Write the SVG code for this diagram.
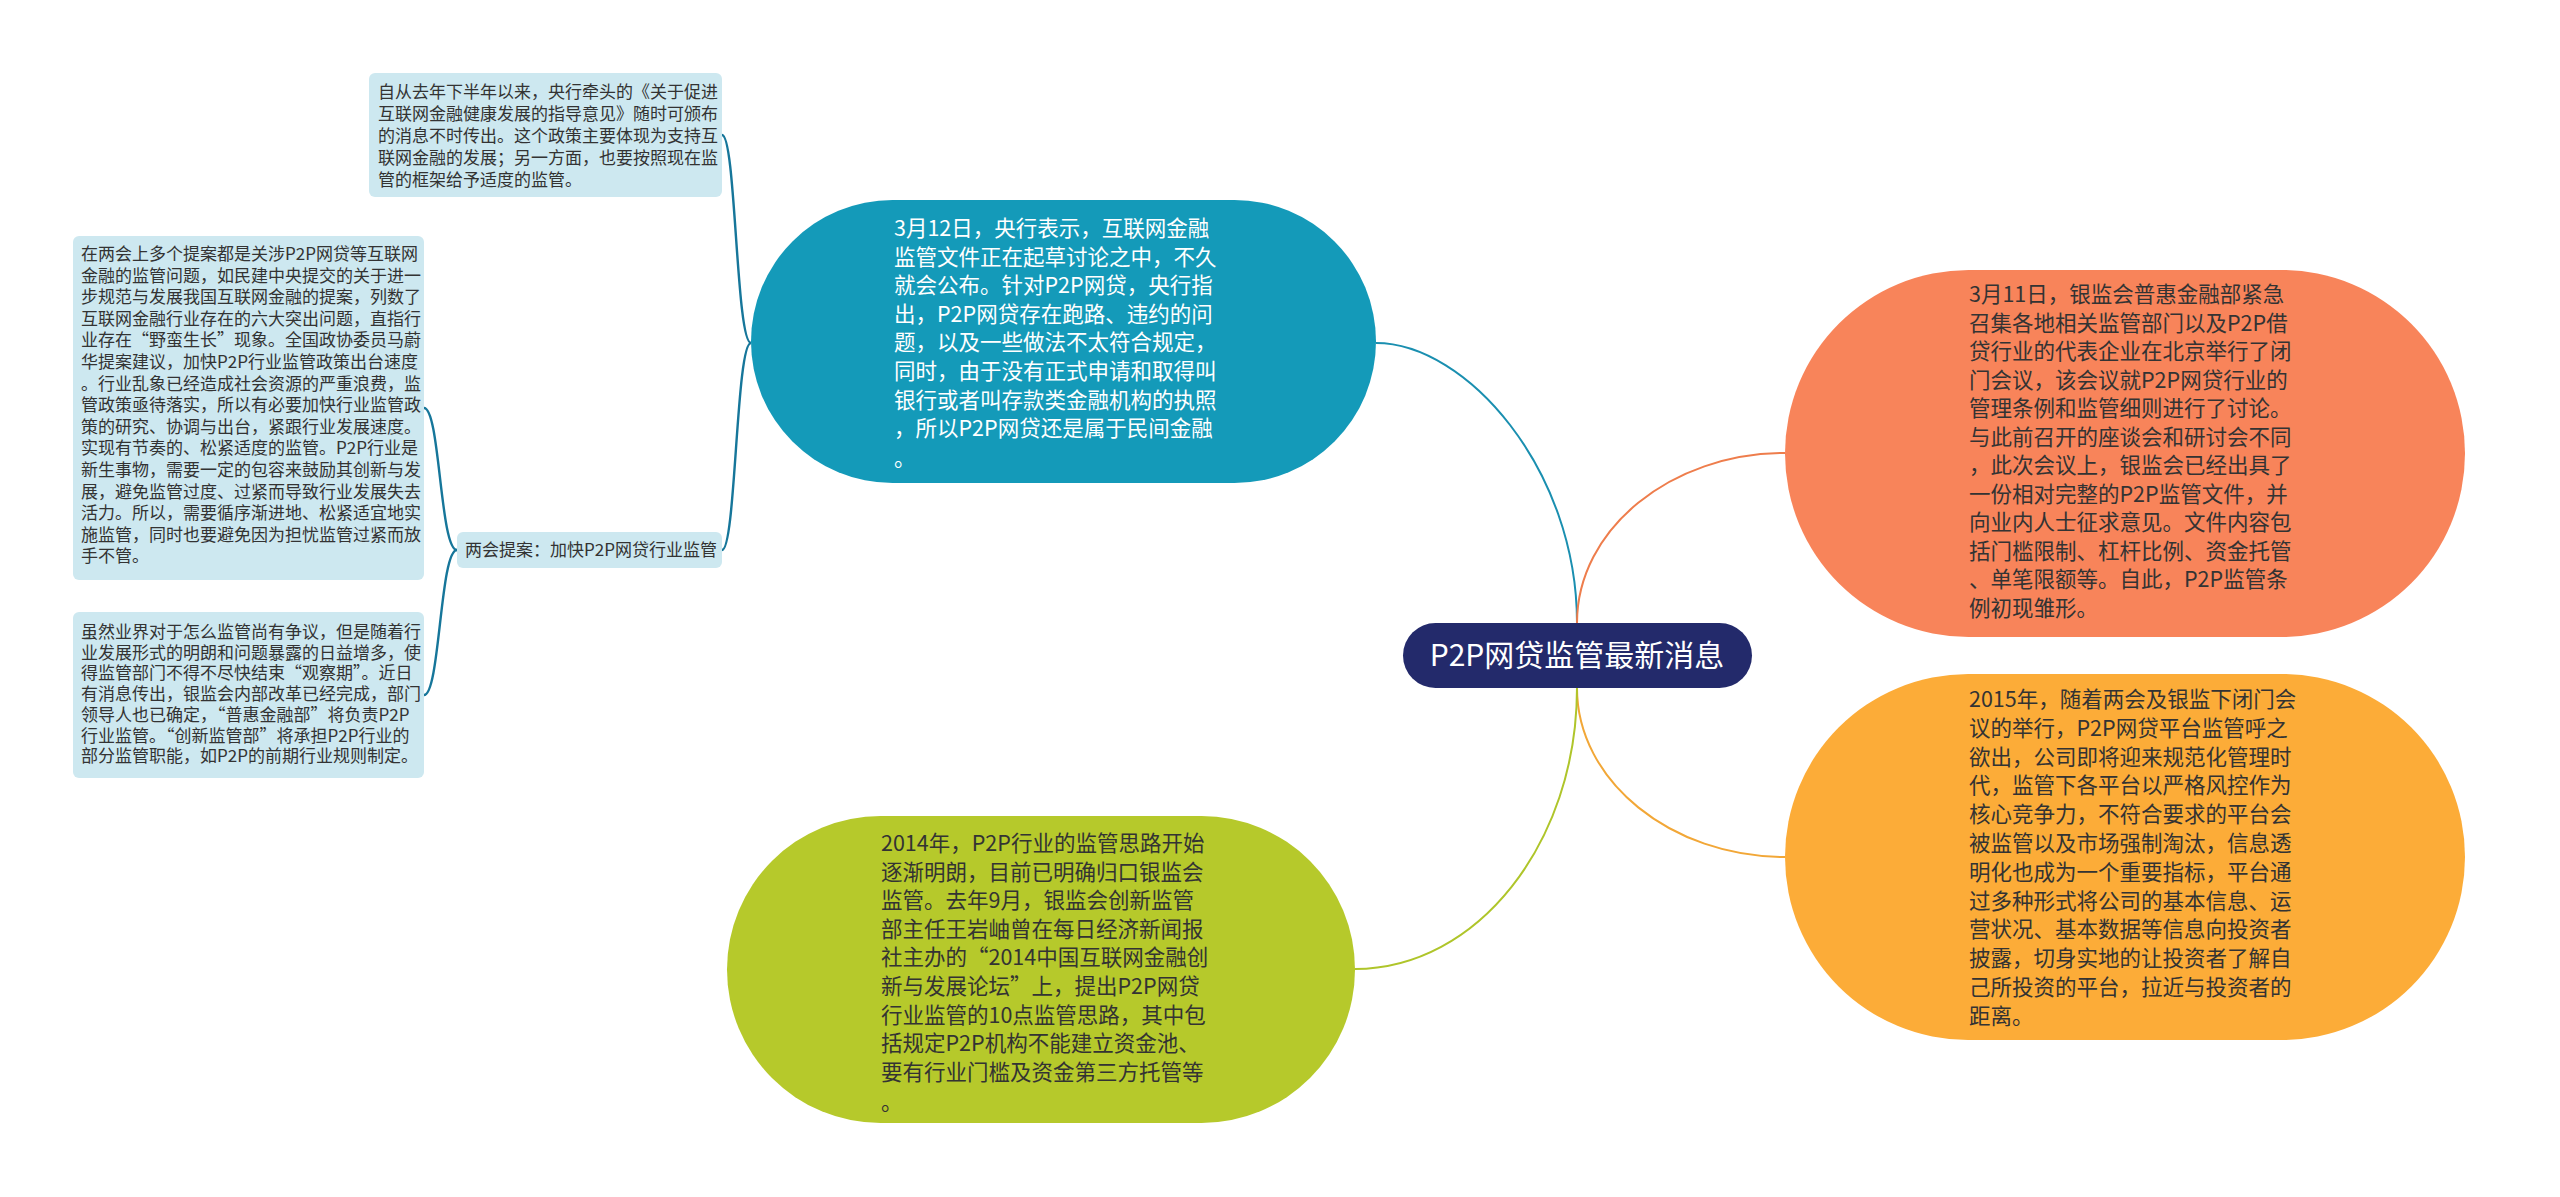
<svg xmlns="http://www.w3.org/2000/svg" width="2560" height="1197" viewBox="0 0 2560 1197">
<style>
.cjk{font-family:"Noto Sans CJK SC","Noto Sans",sans-serif}
.big{font-size:21.5px}
.small{font-size:17px;fill:#333333}
.dark{fill:#333333}
.white{fill:#ffffff}
.box{fill:#cde8f0}
.conn{fill:none;stroke-width:2}
.lconn{fill:none;stroke-width:2.4;stroke:#16769a}
</style>
<rect width="2560" height="1197" fill="#ffffff"/>
<g id="connectors">
<path class="conn" stroke="#1a8fb0" d="M1577,623 C1577,469 1466,343 1376,343"/>
<path class="conn" stroke="#ee7d4c" d="M1577,623 C1577,529 1671,453 1785,453"/>
<path class="conn" stroke="#f2a737" d="M1577,688 C1577,781 1671,857 1785,857"/>
<path class="conn" stroke="#afc52a" d="M1577,688 C1577,843 1477,969 1355,969"/>
<path class="lconn" d="M751,343 C736,343 736,135 722,135"/>
<path class="lconn" d="M751,343 C736,343 736,550 722,550"/>
<path class="lconn" d="M457,550 C440,550 440,408 424,408"/>
<path class="lconn" d="M457,550 C440,550 440,695 424,695"/>
</g>
<g id="center">
<rect x="1403" y="623" width="349" height="65" rx="32.5" fill="#232a6b"/>
<text class="cjk white" x="1577" y="666" font-size="30" text-anchor="middle">P2P网贷监管最新消息</text>
</g>
<g id="node-blue">
<rect x="751" y="200" width="625" height="283" rx="141.5" fill="#149ab9"/>
<text class="cjk big white" x="894">
<tspan x="894" y="236">3月12日，央行表示，互联网金融</tspan>
<tspan x="894" y="264.6">监管文件正在起草讨论之中，不久</tspan>
<tspan x="894" y="293.2">就会公布。针对P2P网贷，央行指</tspan>
<tspan x="894" y="321.8">出，P2P网贷存在跑路、违约的问</tspan>
<tspan x="894" y="350.4">题，以及一些做法不太符合规定，</tspan>
<tspan x="894" y="379">同时，由于没有正式申请和取得叫</tspan>
<tspan x="894" y="407.6">银行或者叫存款类金融机构的执照</tspan>
<tspan x="894" y="436.2">，所以P2P网贷还是属于民间金融</tspan>
<tspan x="894" y="466">。</tspan>
</text>
</g>
<g id="node-orange">
<rect x="1785" y="270" width="680" height="367" rx="183.5" fill="#f8845a"/>
<text class="cjk big dark" x="1969">
<tspan x="1969" y="302">3月11日，银监会普惠金融部紧急</tspan>
<tspan x="1969" y="330.5">召集各地相关监管部门以及P2P借</tspan>
<tspan x="1969" y="359">贷行业的代表企业在北京举行了闭</tspan>
<tspan x="1969" y="387.5">门会议，该会议就P2P网贷行业的</tspan>
<tspan x="1969" y="416">管理条例和监管细则进行了讨论。</tspan>
<tspan x="1969" y="444.5">与此前召开的座谈会和研讨会不同</tspan>
<tspan x="1969" y="473">，此次会议上，银监会已经出具了</tspan>
<tspan x="1969" y="501.5">一份相对完整的P2P监管文件，并</tspan>
<tspan x="1969" y="530">向业内人士征求意见。文件内容包</tspan>
<tspan x="1969" y="558.5">括门槛限制、杠杆比例、资金托管</tspan>
<tspan x="1969" y="587">、单笔限额等。自此，P2P监管条</tspan>
<tspan x="1969" y="615.5">例初现雏形。</tspan>
</text>
</g>
<g id="node-yellow">
<rect x="1785" y="674" width="680" height="366" rx="183" fill="#fcac38"/>
<text class="cjk big dark" x="1969">
<tspan x="1969" y="707">2015年，随着两会及银监下闭门会</tspan>
<tspan x="1969" y="735.8">议的举行，P2P网贷平台监管呼之</tspan>
<tspan x="1969" y="764.6">欲出，公司即将迎来规范化管理时</tspan>
<tspan x="1969" y="793.4">代，监管下各平台以严格风控作为</tspan>
<tspan x="1969" y="822.2">核心竞争力，不符合要求的平台会</tspan>
<tspan x="1969" y="851">被监管以及市场强制淘汰，信息透</tspan>
<tspan x="1969" y="879.8">明化也成为一个重要指标，平台通</tspan>
<tspan x="1969" y="908.6">过多种形式将公司的基本信息、运</tspan>
<tspan x="1969" y="937.4">营状况、基本数据等信息向投资者</tspan>
<tspan x="1969" y="966.2">披露，切身实地的让投资者了解自</tspan>
<tspan x="1969" y="995">己所投资的平台，拉近与投资者的</tspan>
<tspan x="1969" y="1023.8">距离。</tspan>
</text>
</g>
<g id="node-green">
<rect x="727" y="816" width="628" height="307" rx="153.5" fill="#b6c92b"/>
<text class="cjk big dark" x="881">
<tspan x="881" y="851">2014年，P2P行业的监管思路开始</tspan>
<tspan x="881" y="879.6">逐渐明朗，目前已明确归口银监会</tspan>
<tspan x="881" y="908.2">监管。去年9月，银监会创新监管</tspan>
<tspan x="881" y="936.8">部主任王岩岫曾在每日经济新闻报</tspan>
<tspan x="881" y="965.4">社主办的“2014中国互联网金融创</tspan>
<tspan x="881" y="994">新与发展论坛”上，提出P2P网贷</tspan>
<tspan x="881" y="1022.6">行业监管的10点监管思路，其中包</tspan>
<tspan x="881" y="1051.2">括规定P2P机构不能建立资金池、</tspan>
<tspan x="881" y="1079.8">要有行业门槛及资金第三方托管等</tspan>
<tspan x="881" y="1110">。</tspan>
</text>
</g>
<g id="node-top-left">
<rect class="box" x="369" y="73" width="353" height="124" rx="6"/>
<text class="cjk small" x="378">
<tspan x="378" y="98">自从去年下半年以来，央行牵头的《关于促进</tspan>
<tspan x="378" y="120">互联网金融健康发展的指导意见》随时可颁布</tspan>
<tspan x="378" y="142">的消息不时传出。这个政策主要体现为支持互</tspan>
<tspan x="378" y="164">联网金融的发展；另一方面，也要按照现在监</tspan>
<tspan x="378" y="186">管的框架给予适度的监管。</tspan>
</text>
</g>
<g id="node-label">
<rect class="box" x="457" y="532" width="265" height="36" rx="6"/>
<text class="cjk small" x="465" y="556">两会提案：加快P2P网贷行业监管</text>
</g>
<g id="node-mid-left">
<rect class="box" x="73" y="236" width="351" height="344" rx="6"/>
<text class="cjk small" x="81">
<tspan x="81" y="260">在两会上多个提案都是关涉P2P网贷等互联网</tspan>
<tspan x="81" y="281.6">金融的监管问题，如民建中央提交的关于进一</tspan>
<tspan x="81" y="303.2">步规范与发展我国互联网金融的提案，列数了</tspan>
<tspan x="81" y="324.8">互联网金融行业存在的六大突出问题，直指行</tspan>
<tspan x="81" y="346.4">业存在“野蛮生长”现象。全国政协委员马蔚</tspan>
<tspan x="81" y="368">华提案建议，加快P2P行业监管政策出台速度</tspan>
<tspan x="81" y="389.6">。行业乱象已经造成社会资源的严重浪费，监</tspan>
<tspan x="81" y="411.2">管政策亟待落实，所以有必要加快行业监管政</tspan>
<tspan x="81" y="432.8">策的研究、协调与出台，紧跟行业发展速度。</tspan>
<tspan x="81" y="454.4">实现有节奏的、松紧适度的监管。P2P行业是</tspan>
<tspan x="81" y="476">新生事物，需要一定的包容来鼓励其创新与发</tspan>
<tspan x="81" y="497.6">展，避免监管过度、过紧而导致行业发展失去</tspan>
<tspan x="81" y="519.2">活力。所以，需要循序渐进地、松紧适宜地实</tspan>
<tspan x="81" y="540.8">施监管，同时也要避免因为担忧监管过紧而放</tspan>
<tspan x="81" y="562.4">手不管。</tspan>
</text>
</g>
<g id="node-bottom-left">
<rect class="box" x="73" y="612" width="351" height="166" rx="6"/>
<text class="cjk small" x="81">
<tspan x="81" y="638">虽然业界对于怎么监管尚有争议，但是随着行</tspan>
<tspan x="81" y="658.7">业发展形式的明朗和问题暴露的日益增多，使</tspan>
<tspan x="81" y="679.4">得监管部门不得不尽快结束“观察期”。近日</tspan>
<tspan x="81" y="700.1">有消息传出，银监会内部改革已经完成，部门</tspan>
<tspan x="81" y="720.8">领导人也已确定，“普惠金融部”将负责P2P</tspan>
<tspan x="81" y="741.5">行业监管。“创新监管部”将承担P2P行业的</tspan>
<tspan x="81" y="762.2">部分监管职能，如P2P的前期行业规则制定。</tspan>
</text>
</g>
</svg>
